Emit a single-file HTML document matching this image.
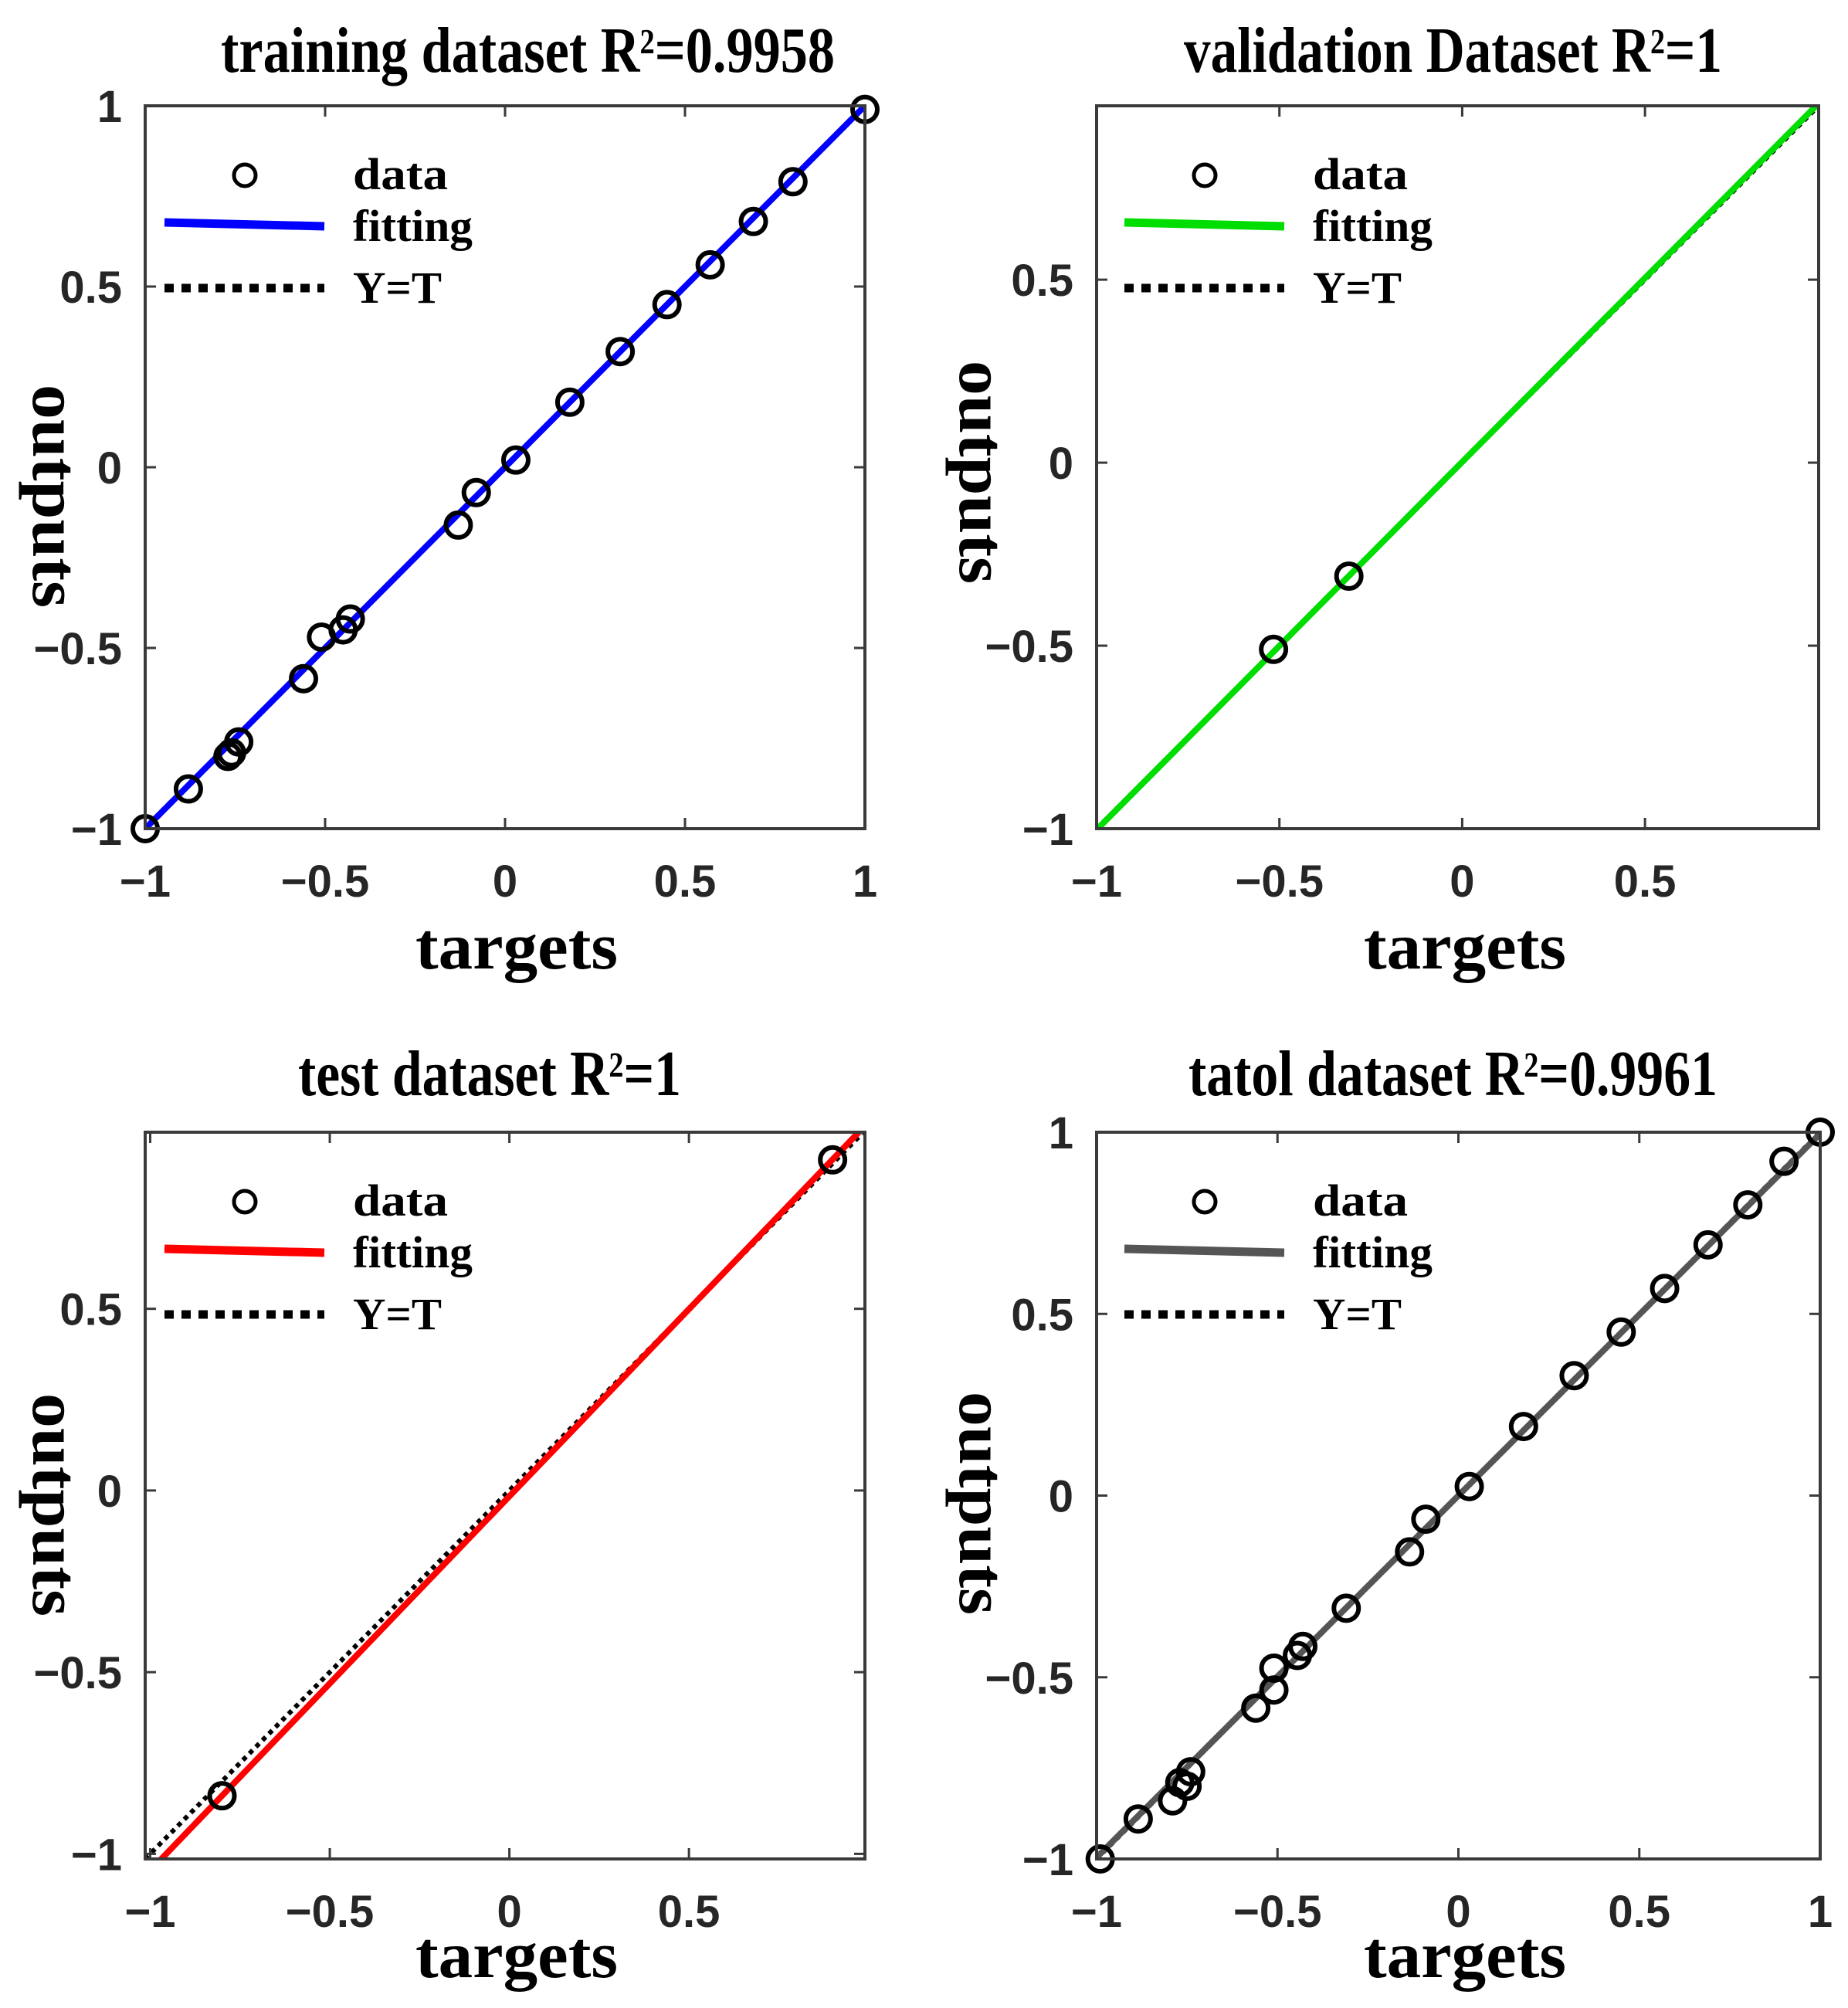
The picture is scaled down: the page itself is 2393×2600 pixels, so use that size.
<!DOCTYPE html>
<html><head><meta charset="utf-8"><style>
html,body{margin:0;padding:0;background:#fff;}
svg{display:block;}
</style></head><body>
<svg id="fig" xmlns="http://www.w3.org/2000/svg" width="2393" height="2600" viewBox="0 0 2393 2600">
<rect width="2393" height="2600" fill="#fff"/>
</svg>
<script>
// ---- data ----
const trainT = [-1.0,-0.88,-0.77,-0.76,-0.74,-0.56,-0.51,-0.45,-0.43,-0.13,-0.08,0.03,0.18,0.32,0.45,0.57,0.69,0.80,1.0];
const trainO = [-1.0,-0.89,-0.80,-0.79,-0.76,-0.585,-0.47,-0.45,-0.42,-0.16,-0.07,0.02,0.18,0.32,0.45,0.56,0.68,0.79,0.99];
const trainFit = [1.0, 0.0];
const valT = [-0.516,-0.31];
const valO = [-0.51,-0.31];
const valFit = [1.005, 0.002];
const testT = [-0.80,0.90];
const testO = [-0.84,0.91];
const testFit = [1.03,-0.016];
const totT = [-0.99,-0.885,-0.79,-0.77,-0.75,-0.74,-0.56,-0.51,-0.51,-0.445,-0.43,-0.31,-0.135,-0.09,0.03,0.18,0.32,0.45,0.57,0.69,0.80,0.90,1.0];
const totO = [-1.0,-0.89,-0.84,-0.79,-0.80,-0.76,-0.585,-0.535,-0.475,-0.44,-0.415,-0.31,-0.155,-0.065,0.025,0.19,0.33,0.45,0.57,0.69,0.80,0.92,1.0];
const totFit = [0.996, 0.0];
const tickVals = [-1,-0.5,0,0.5,1];
const tickLabels = ["\u22121","\u22120.5","0","0.5","1"];
const titles = ["training dataset R","validation Dataset R","test dataset R","tatol dataset R"];
const titleTails = ["=0.9958","=1","=1","=0.9961"];

const NS="http://www.w3.org/2000/svg";
const svg=document.getElementById('fig');
function mk(tag,attrs,parent){const e=document.createElementNS(NS,tag);for(const k in attrs)e.setAttribute(k,attrs[k]);(parent||svg).appendChild(e);return e;}

const panels=[
 {name:'training',px0:188,px1:1120,py0:137,py1:1073,xmin:-1,xmax:1,ymin:-1,ymax:1,T:trainT,O:trainO,fit:trainFit,color:'#0000ff',
  tx0:286,tx1:1081,ty:93,lx:43,ly:642,bx:669,by:1254,lgx:0},
 {name:'validation',px0:1420,px1:2355,py0:137,py1:1073,xmin:-1,xmax:0.975,ymin:-1,ymax:0.975,T:valT,O:valO,fit:valFit,color:'#00dd00',
  tx0:1533,tx1:2230,ty:93,lx:1243,ly:611,bx:1897,by:1254,lgx:1243},
 {name:'test',px0:188,px1:1120,py0:1466,py1:2407,xmin:-1.014,xmax:0.99,ymin:-1.014,ymax:0.986,T:testT,O:testO,fit:testFit,color:'#ff0000',
  tx0:386,tx1:882,ty:1418,lx:43,ly:1948,bx:669,by:2560,lgx:0},
 {name:'total',px0:1420,px1:2357,py0:1466,py1:2407,xmin:-1,xmax:1,ymin:-1,ymax:1,T:totT,O:totO,fit:totFit,color:'#555555',
  tx0:1539,tx1:2224,ty:1418,lx:1243,ly:1946,bx:1897,by:2560,lgx:1243}
];

panels.forEach((p,i)=>{
  const g=mk('g',{});
  
  
  const sx=v=>p.px0+(v-p.xmin)/(p.xmax-p.xmin)*(p.px1-p.px0);
  const sy=v=>p.py1-(v-p.ymin)/(p.ymax-p.ymin)*(p.py1-p.py0);
  const t=mk('text',{x:p.tx0,y:p.ty,textLength:p.tx1-p.tx0,lengthAdjust:'spacingAndGlyphs','font-family':'Liberation Serif, serif','font-weight':'bold','font-size':84,fill:'#000'},g);
  
  
  t.appendChild(document.createTextNode(titles[i]));
  const sup=mk('tspan',{'font-size':46,dy:-24},t); sup.textContent='2';
  const tail=mk('tspan',{dy:24},t); tail.textContent=titleTails[i];
  const cid='clip'+i;
  const cp=mk('clipPath',{id:cid},g); mk('rect',{x:p.px0,y:p.py0,width:p.px1-p.px0,height:p.py1-p.py0},cp);
  const lo=Math.max(p.xmin,p.ymin), hi=Math.min(p.xmax,p.ymax);
  const yt=mk('line',{x1:sx(lo),y1:sy(lo),x2:sx(hi),y2:sy(hi),stroke:'#000','stroke-width':6,'stroke-dasharray':'6 6','clip-path':`url(#${cid})`},g);
  
  
  const fx0=p.xmin-0.1, fx1=p.xmax+0.1;
  const fl=mk('line',{x1:sx(fx0),y1:sy(p.fit[0]*fx0+p.fit[1]),x2:sx(fx1),y2:sy(p.fit[0]*fx1+p.fit[1]),stroke:p.color,'stroke-width':8,'clip-path':`url(#${cid})`},g);
  
  
  p.T.forEach((tv,k)=>{
    const c=mk('circle',{cx:sx(tv),cy:sy(p.O[k]),r:16,fill:'none',stroke:'#000','stroke-width':6},g);
    
    
  });
  const box=mk('rect',{x:p.px0,y:p.py0,width:p.px1-p.px0,height:p.py1-p.py0,fill:'none',stroke:'#3a3a3a','stroke-width':4},g);
  
  
  tickVals.forEach((v,k)=>{
    if(v>=p.xmin-0.001 && v<=p.xmax+0.001){
      const x=sx(v);
      mk('line',{x1:x,y1:p.py1,x2:x,y2:p.py1-14,stroke:'#3a3a3a','stroke-width':3},g);
      mk('line',{x1:x,y1:p.py0,x2:x,y2:p.py0+14,stroke:'#3a3a3a','stroke-width':3},g);
      const lt=mk('text',{x:x,y:p.py1+88,'text-anchor':'middle','font-family':'Liberation Sans, sans-serif','font-weight':'bold','font-size':58,fill:'#262626'},g);
      
      
      lt.textContent=tickLabels[k];
    }
    if(v>=p.ymin-0.001 && v<=p.ymax+0.001){
      const y=sy(v);
      mk('line',{x1:p.px0,y1:y,x2:p.px0+14,y2:y,stroke:'#3a3a3a','stroke-width':3},g);
      mk('line',{x1:p.px1,y1:y,x2:p.px1-14,y2:y,stroke:'#3a3a3a','stroke-width':3},g);
      const lt=mk('text',{x:p.px0-30,y:y+21,'text-anchor':'end','font-family':'Liberation Sans, sans-serif','font-weight':'bold','font-size':58,fill:'#262626'},g);
      
      
      lt.textContent=tickLabels[k];
    }
  });
  const xl=mk('text',{x:p.bx-131,y:p.by,textLength:262,lengthAdjust:'spacingAndGlyphs','font-family':'Liberation Serif, serif','font-weight':'bold','font-size':86,fill:'#000'},g);
  
  
  xl.textContent='targets';
  const yl=mk('text',{x:0,y:0,textLength:289,lengthAdjust:'spacingAndGlyphs','font-family':'Liberation Serif, serif','font-weight':'bold','font-size':86,fill:'#000',transform:`translate(${p.lx},${p.ly-144}) rotate(90)`},g);
  
  
  yl.textContent='outputs';
  const lg=mk('g',{transform:`translate(${p.lgx},${p.py0-137})`},g);
  
  
  mk('circle',{cx:317,cy:227,r:14,fill:'none',stroke:'#000','stroke-width':5},lg);
  mk('line',{x1:213,y1:288,x2:420,y2:293,stroke:p.color,'stroke-width':11},lg);
  mk('line',{x1:213,y1:373,x2:420,y2:373,stroke:'#000','stroke-width':11,'stroke-dasharray':'12 10'},lg);
  const labs=[['data',245,123],['fitting',312,155],['Y=T',392,115]];
  labs.forEach(([s,y,w])=>{
    const e=mk('text',{x:457,y:y,textLength:w,lengthAdjust:'spacingAndGlyphs','font-family':'Liberation Serif, serif','font-weight':'bold','font-size':58,fill:'#000'},lg);
    
    
    e.textContent=s;
  });
});
</script>
</body></html>
